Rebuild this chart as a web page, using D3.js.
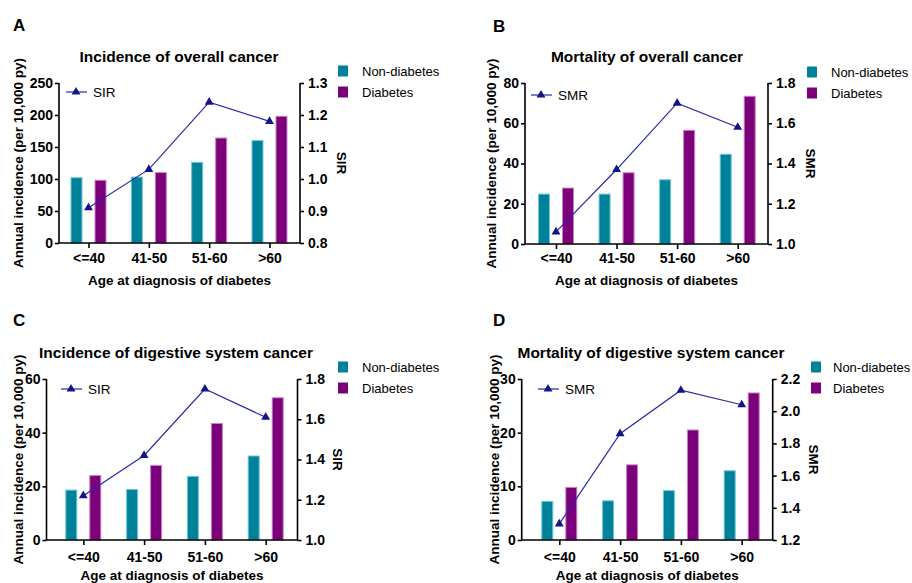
<!DOCTYPE html>
<html>
<head>
<meta charset="utf-8">
<script src="https://cdn.jsdelivr.net/npm/d3@7"></script>
<style>
  body { margin: 0; background: #fff; }
  svg text { font-family: "Liberation Sans", Arial, sans-serif; fill: #000; }
</style>
</head>
<body>
<div id="chart"></div>
<script>
(() => {
    // categories
    const ageGroups = ["<=40", "41-50", "51-60", ">60"];

    // A: incidence of overall cancer
    const incOverallNonDiab = [102, 103, 126, 160];
    const incOverallDiab = [98, 110, 164, 198];
    const sirOverall = [0.91, 1.03, 1.24, 1.18];

    // B: mortality of overall cancer
    const mortOverallNonDiab = [24.8, 24.8, 31.9, 44.6];
    const mortOverallDiab = [27.8, 35.4, 56.5, 73.4];
    const smrOverall = [1.06, 1.37, 1.70, 1.58];

    // C: incidence of digestive system cancer
    const incDigestNonDiab = [18.6, 18.8, 23.7, 31.3];
    const incDigestDiab = [24.0, 27.8, 43.4, 53.0];
    const sirDigest = [1.22, 1.42, 1.75, 1.61];

    // D: mortality of digestive system cancer
    const mortDigestNonDiab = [7.2, 7.3, 9.2, 12.9];
    const mortDigestDiab = [9.8, 14.0, 20.5, 27.4];
    const smrDigest = [1.30, 1.86, 2.13, 2.04];

    // tick values
    const ticksA = [0, 50, 100, 150, 200, 250], ticksA2 = [0.8, 0.9, 1.0, 1.1, 1.2, 1.3];
    const ticksB = [0, 20, 40, 60, 80], ticksB2 = [1.0, 1.2, 1.4, 1.6, 1.8];
    const ticksC = [0, 20, 40, 60], ticksC2 = [1.0, 1.2, 1.4, 1.6, 1.8];
    const ticksD = [0, 10, 20, 30], ticksD2 = [1.2, 1.4, 1.6, 1.8, 2.0, 2.2];

    const seriesNames = ["Non-diabetes", "Diabetes"];
    const yLabel = "Annual incidence (per 10,000 py)";
    const xLabel = "Age at diagnosis of diabetes";

    const colors = { fill: ["#00819a", "#7d007b"], edge: ["#6cc8d6", "#c683c4"], line: "#2a2aa6", mark: "#14148a" };

    const panels = [
        { letter: "A", title: "Incidence of overall cancer", ratio: "SIR",
          bars: [incOverallNonDiab, incOverallDiab], ratioVals: sirOverall, ticks: ticksA, ticks2: ticksA2,
          box: { l: 59, r: 300, t: 83, b: 243, x0: 88.5, x1: 269.5 },
          letterPos: [13, 31], titleX: 179, titleY: 62, yLabX: 23, y2LabX: 337, tickY: 258, xLabY: 285,
          legX: 338, legY: [71, 92], legGap: 24, inLeg: [66, 92] },
        { letter: "B", title: "Mortality of overall cancer", ratio: "SMR",
          bars: [mortOverallNonDiab, mortOverallDiab], ratioVals: smrOverall, ticks: ticksB, ticks2: ticksB2,
          box: { l: 525, r: 768, t: 83, b: 244, x0: 556, x1: 737.7 },
          letterPos: [493, 32], titleX: 647, titleY: 62, yLabX: 496, y2LabX: 806, tickY: 258, xLabY: 285,
          legX: 807, legY: [72, 93], legGap: 24, inLeg: [531, 95] },
        { letter: "C", title: "Incidence of digestive system cancer", ratio: "SIR",
          bars: [incDigestNonDiab, incDigestDiab], ratioVals: sirDigest, ticks: ticksC, ticks2: ticksC2,
          box: { l: 46.5, r: 297.5, t: 379, b: 540, x0: 83.3, x1: 265.7 },
          letterPos: [13, 326], titleX: 176, titleY: 358, yLabX: 23, y2LabX: 333, tickY: 557, xLabY: 580,
          legX: 338, legY: [367, 388], legGap: 24, inLeg: [61, 389] },
        { letter: "D", title: "Mortality of digestive system cancer", ratio: "SMR",
          bars: [mortDigestNonDiab, mortDigestDiab], ratioVals: smrDigest, ticks: ticksD, ticks2: ticksD2,
          box: { l: 521.7, r: 772.7, t: 379, b: 540, x0: 559.3, x1: 741.7 },
          letterPos: [493, 326], titleX: 651, titleY: 358, yLabX: 499, y2LabX: 809, tickY: 557, xLabY: 580,
          legX: 811, legY: [367, 388], legGap: 22, inLeg: [538, 389] }
    ];

    const svg = d3.select("#chart").append("svg")
        .attr("width", 912)
        .attr("height", 583)
        .style("background", "#fff");

    const barW = 12, barOff = 12;

    panels.forEach(p => {
        const g = svg.append("g");
        const bx = p.box;

        const x = d3.scalePoint().domain(ageGroups).range([bx.x0, bx.x1]);
        const y = d3.scaleLinear().domain(d3.extent(p.ticks)).range([bx.b, bx.t]);
        const y2 = d3.scaleLinear().domain(d3.extent(p.ticks2)).range([bx.b, bx.t]);

        // panel letter and title
        g.append("text").attr("x", p.letterPos[0]).attr("y", p.letterPos[1])
            .style("font-size", "17px").style("font-weight", "bold").text(p.letter);
        g.append("text").attr("x", p.titleX).attr("y", p.titleY)
            .attr("text-anchor", "middle")
            .style("font-size", "15.5px").style("font-weight", "bold").text(p.title);

        // bars
        p.bars.forEach((vals, si) => {
            g.append("g").selectAll("rect")
                .data(vals)
                .join("rect")
                .attr("x", (d, i) => x(ageGroups[i]) + (si === 0 ? -barOff : barOff) - barW / 2 + 0.5)
                .attr("y", d => y(d))
                .attr("width", barW - 1)
                .attr("height", d => bx.b - y(d))
                .attr("fill", colors.fill[si])
                .attr("stroke", colors.edge[si])
                .attr("stroke-width", 1);
        });

        // ratio line
        const line = d3.line()
            .x((d, i) => x(ageGroups[i]))
            .y(d => y2(d));
        g.append("path").datum(p.ratioVals)
            .attr("fill", "none").attr("stroke", colors.line).attr("stroke-width", 1.2)
            .attr("d", line);
        g.append("g").selectAll("path")
            .data(p.ratioVals)
            .join("path")
            .attr("transform", (d, i) => `translate(${x(ageGroups[i])},${y2(d)})`)
            .attr("d", d3.symbol(d3.symbolTriangle, 34))
            .attr("fill", colors.mark);

        // axes
        const axisStyle = sel => {
            sel.selectAll(".domain").remove();
            sel.selectAll("line").attr("stroke", "#000").attr("stroke-width", 1.6);
            sel.selectAll("text").style("font-size", "14px").style("font-weight", "bold")
                .style("font-family", "'Liberation Sans', Arial, sans-serif");
        };

        g.append("g").attr("transform", `translate(${bx.l},0)`)
            .call(d3.axisLeft(y).tickValues(p.ticks).tickSize(4).tickPadding(2).tickFormat(d3.format("d")))
            .call(axisStyle);
        g.append("g").attr("transform", `translate(${bx.r},0)`)
            .call(d3.axisRight(y2).tickValues(p.ticks2).tickSize(4).tickPadding(4).tickFormat(d3.format(".1f")))
            .call(axisStyle);
        g.append("g").attr("transform", `translate(0,${bx.b})`)
            .call(d3.axisBottom(x).tickSize(5).tickPadding(7))
            .call(axisStyle)
            .selectAll("text").attr("y", p.tickY - bx.b).attr("dy", "0.35em");

        // axis lines
        g.append("path")
            .attr("d", `M${bx.l},${bx.t}V${bx.b}H${bx.r}V${bx.t}`)
            .attr("fill", "none").attr("stroke", "#000").attr("stroke-width", 1.6);

        // axis titles
        const midY = (bx.t + bx.b) / 2;
        g.append("text")
            .attr("transform", `translate(${p.yLabX},${midY}) rotate(-90)`)
            .attr("text-anchor", "middle")
            .style("font-size", "13.5px").style("font-weight", "bold").text(yLabel);
        g.append("text")
            .attr("transform", `translate(${p.y2LabX},${midY}) rotate(90)`)
            .attr("text-anchor", "middle")
            .style("font-size", "13.5px").style("font-weight", "bold").text(p.ratio);
        g.append("text")
            .attr("x", (bx.l + bx.r) / 2).attr("y", p.xLabY)
            .attr("text-anchor", "middle")
            .style("font-size", "13.5px").style("font-weight", "bold").text(xLabel);

        // bar legend
        seriesNames.forEach((name, si) => {
            g.append("rect")
                .attr("x", p.legX).attr("y", p.legY[si] - 5.5)
                .attr("width", 10).attr("height", 11)
                .attr("fill", colors.fill[si]);
            g.append("text")
                .attr("x", p.legX + p.legGap).attr("y", p.legY[si])
                .attr("dy", "0.35em")
                .style("font-size", "13px").text(name);
        });

        // ratio legend inside plot
        const [lx, ly] = p.inLeg;
        g.append("line").attr("x1", lx).attr("x2", lx + 21).attr("y1", ly).attr("y2", ly)
            .attr("stroke", colors.line).attr("stroke-width", 1.2);
        g.append("path").attr("transform", `translate(${lx + 10},${ly})`)
            .attr("d", d3.symbol(d3.symbolTriangle, 34)).attr("fill", colors.mark);
        g.append("text").attr("x", lx + 27).attr("y", ly).attr("dy", "0.35em")
            .style("font-size", "13.5px").text(p.ratio);
    });
})();
</script>
</body>
</html>
